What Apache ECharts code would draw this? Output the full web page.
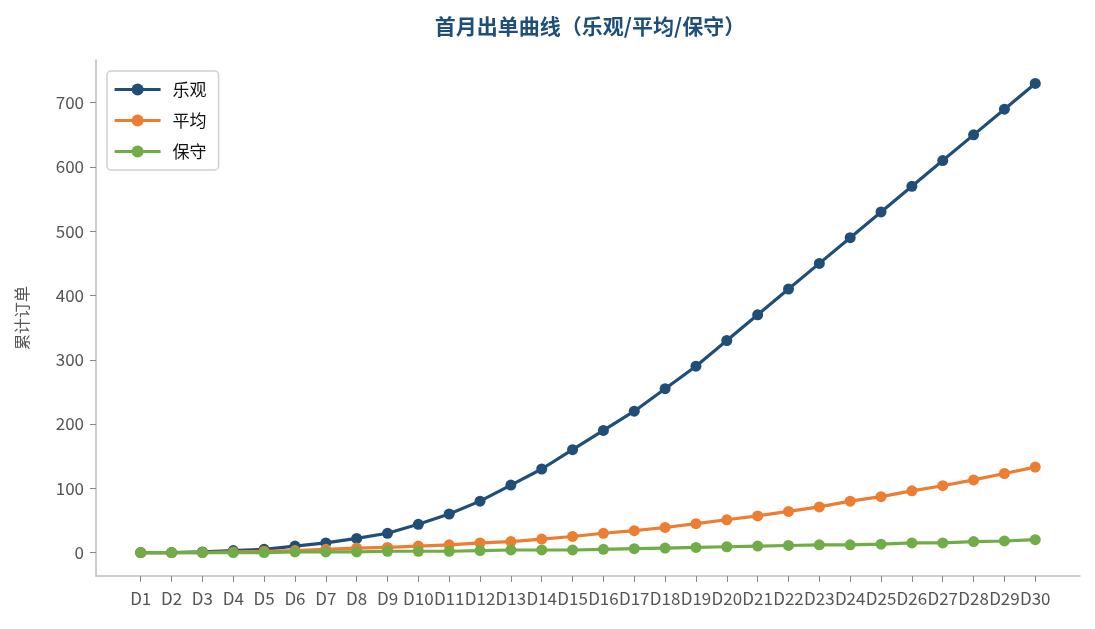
<!DOCTYPE html>
<html>
<head>
<meta charset="utf-8">
<script src="https://cdn.jsdelivr.net/npm/echarts@6/dist/echarts.min.js"></script>
<style>
  html, body { margin: 0; padding: 0; background: #fff; }
  #chart { width: 1095px; height: 629px; }
</style>
</head>
<body>
<div id="chart"></div>
<script>
// 数据
var days = ['D1','D2','D3','D4','D5','D6','D7','D8','D9','D10',
            'D11','D12','D13','D14','D15','D16','D17','D18','D19','D20',
            'D21','D22','D23','D24','D25','D26','D27','D28','D29','D30'];
var optimistic = [0, 0, 1, 3, 5, 10, 15, 22, 30, 44,
                  60, 80, 105, 130, 160, 190, 220, 255, 290, 330,
                  370, 410, 450, 490, 530, 570, 610, 650, 690, 730];
var average = [0, 0, 0, 1, 2, 3, 5, 7, 8, 10,
               12, 15, 17, 21, 25, 30, 34, 39, 45, 51,
               57, 64, 71, 80, 87, 96, 104, 113, 123, 133];
var conservative = [0, 0, 0, 0, 0, 1, 1, 1, 2, 2,
                    2, 3, 4, 4, 4, 5, 6, 7, 8, 9,
                    10, 11, 12, 12, 13, 15, 15, 17, 18, 20];
var yTicks = [0, 100, 200, 300, 400, 500, 600, 700];

var font = "'Noto Sans CJK SC', 'Open Sans', sans-serif";
var chart = echarts.init(document.getElementById('chart'));

function toPoints(arr) {
  return arr.map(function (v, i) { return [i, v]; });
}

function makeSeries(name, arr, color) {
  return {
    name: name,
    type: 'line',
    data: toPoints(arr),
    symbol: 'circle',
    symbolSize: 11,
    lineStyle: { width: 3.2, color: color },
    itemStyle: { color: color },
    emphasis: { disabled: true }
  };
}

var xTicks = days.map(function (d, i) { return i; });

option = {
  animation: false,
  textStyle: { fontFamily: font },
  title: {
    text: '首月出单曲线（乐观/平均/保守）',
    left: 585,
    textAlign: 'center',
    top: 11,
    textStyle: { fontSize: 21, fontWeight: 'bold', color: '#1f4e79', fontFamily: font }
  },
  legend: {
    orient: 'vertical',
    left: 107,
    top: 71,
    padding: [10, 12, 10, 6],
    itemGap: 14,
    itemWidth: 46,
    itemHeight: 15,
    backgroundColor: '#fff',
    borderColor: '#d0d0d0',
    borderWidth: 1.5,
    borderRadius: 4,
    lineStyle: { width: 3.2 },
    textStyle: { fontSize: 17, color: '#111', fontFamily: font, padding: [0, 0, 0, 7] },
    data: ['乐观', '平均', '保守']
  },
  grid: { left: 96, right: 15, top: 60, bottom: 53, containLabel: false },
  xAxis: {
    type: 'value',
    min: -1.45,
    max: 30.45,
    splitLine: { show: false },
    axisLine: { onZero: false, lineStyle: { color: '#bdbdbd', width: 1.5 } },
    axisTick: { customValues: xTicks, length: 6, lineStyle: { color: '#888' } },
    axisLabel: {
      customValues: xTicks,
      fontSize: 17,
      color: '#555',
      margin: 14,
      hideOverlap: false,
      formatter: function (v) { return days[Math.round(v)]; }
    }
  },
  yAxis: {
    type: 'value',
    min: -36.5,
    max: 766.5,
    name: '累计订单',
    nameLocation: 'middle',
    nameGap: 66,
    nameTextStyle: { fontSize: 16, color: '#555', fontFamily: font },
    splitLine: { show: false },
    axisLine: { show: true, onZero: false, lineStyle: { color: '#bdbdbd', width: 1.5 } },
    axisTick: { show: true, customValues: yTicks, length: 6, lineStyle: { color: '#888' } },
    axisLabel: { customValues: yTicks, fontSize: 17, color: '#555', margin: 12 }
  },
  series: [
    makeSeries('乐观', optimistic, '#1f4e79'),
    makeSeries('平均', average, '#ed7d31'),
    makeSeries('保守', conservative, '#70ad47')
  ]
};
chart.setOption(option);

window.addEventListener('resize', function () {
  chart.resize();
});
</script>
</body>
</html>
